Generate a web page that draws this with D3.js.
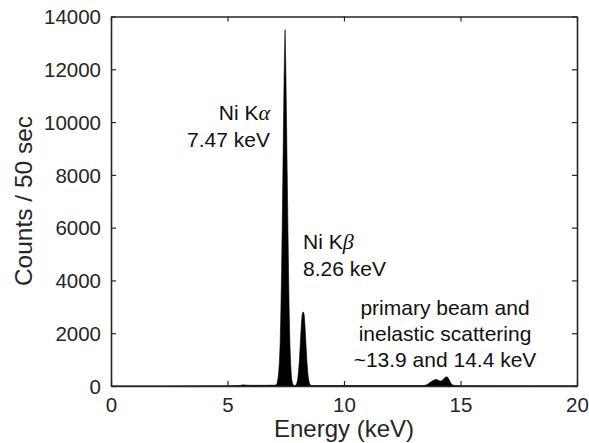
<!DOCTYPE html>
<html><head><meta charset="utf-8">
<script src="https://cdn.jsdelivr.net/npm/d3@7"></script>
<style>
html,body{margin:0;padding:0;background:#fff;}
svg{display:block;font-family:"Liberation Sans",Arial,Helvetica,sans-serif;}
</style></head>
<body>
<svg id="chart" width="589" height="443"></svg>
<script>
// Spectrum (energy in keV, counts per 50 s)
const energy = [0, 2, 5.0, 5.5, 5.6, 5.67, 5.75, 5.85, 6.0, 6.5, 7.0, 7.08,
  7.11, 7.14, 7.17, 7.20, 7.23, 7.26, 7.29, 7.32, 7.35, 7.38, 7.41, 7.44, 7.47,
  7.50, 7.53, 7.56, 7.59, 7.62, 7.65, 7.68, 7.71, 7.74, 7.77, 7.80, 7.83, 7.88,
  7.93, 7.96, 7.99, 8.02, 8.05, 8.08, 8.11, 8.14, 8.17, 8.20, 8.23, 8.26,
  8.29, 8.32, 8.35, 8.38, 8.41, 8.44, 8.47, 8.50, 8.53, 8.56, 8.62, 9.0, 10.0,
  10.4, 11.0, 12.0, 13.0, 13.4, 13.5, 13.6, 13.7, 13.8, 13.9, 13.97, 14.05, 14.12,
  14.17, 14.25, 14.32, 14.4, 14.45, 14.5, 14.56, 14.62, 14.7, 14.8, 15.0, 16.0,
  18.0, 20.0];
const counts = [0, 0, 5, 15, 30, 45, 35, 30, 25, 25, 30, 40,
  60, 140, 300, 560, 950, 1600, 2800, 4300, 6200, 8300, 10400, 12300, 13500,
  12200, 10300, 8200, 6200, 4300, 2700, 1550, 850, 400, 170, 70, 30, 15,
  30, 70, 150, 310, 560, 910, 1360, 1870, 2350, 2680, 2790, 2800,
  2700, 2360, 1880, 1380, 920, 560, 310, 160, 75, 30, 15, 15, 15,
  20, 15, 15, 15, 20, 30, 70, 140, 200, 240, 250, 220, 185,
  190, 240, 310, 350, 330, 260, 150, 60, 30, 15, 10, 8,
  5, 5];

const xTicks = [0, 5, 10, 15, 20];
const yTicks = [0, 2000, 4000, 6000, 8000, 10000, 12000, 14000];
const xLabel = "Energy (keV)";
const yLabel = "Counts / 50 sec";

const svg = d3.select("#chart");
const L = 111, R = 577, T = 16.5, B = 386;
const ink = "#262626";
const x = d3.scaleLinear().domain([0, 20]).range([L, R]);
const y = d3.scaleLinear().domain([0, 14000]).range([B, T]);

const pts = energy.map((e, i) => [e, counts[i]]);
const area = d3.area().x(d => x(d[0])).y0(y(0)).y1(d => y(d[1]));
svg.append("path").datum(pts).attr("d", area).attr("fill", "#000")
  .attr("stroke", "#000").attr("stroke-width", 0.6);

// axes (inward ticks, mirrored box)
const fs = 20.5;
const ax = svg.append("g").attr("transform", `translate(0,${B})`)
  .call(d3.axisBottom(x).tickValues(xTicks).tickSizeInner(-5).tickSizeOuter(0).tickPadding(16));
const axT = svg.append("g").attr("transform", `translate(0,${T})`)
  .call(d3.axisTop(x).tickValues(xTicks).tickSizeInner(-5).tickSizeOuter(0).tickFormat(""));
const ay = svg.append("g").attr("transform", `translate(${L},0)`)
  .call(d3.axisLeft(y).tickValues(yTicks).tickSizeInner(-5).tickSizeOuter(0).tickPadding(16).tickFormat(d3.format("d")));
const ayR = svg.append("g").attr("transform", `translate(${R},0)`)
  .call(d3.axisRight(y).tickValues(yTicks).tickSizeInner(-5).tickSizeOuter(0).tickFormat(""));
[ax, axT, ay, ayR].forEach(g => {
  g.selectAll("path").attr("stroke", ink).attr("stroke-width", 1.6);
  g.selectAll("line").attr("stroke", ink).attr("stroke-width", 1.2);
  g.selectAll("text").attr("fill", ink).attr("font-size", fs)
    .attr("font-family", '"Liberation Sans",Arial,sans-serif');
});
ax.selectAll("text").attr("dy", "0.71em").attr("y", 11);
ay.selectAll("text").attr("x", -10).attr("dy", "0.35em");

// axis labels
svg.append("text").attr("x", 344).attr("y", 437).attr("text-anchor", "middle")
  .attr("font-size", 24).attr("fill", ink).text(xLabel);
svg.append("text").attr("transform", `translate(32,201) rotate(-90)`)
  .attr("text-anchor", "middle").attr("font-size", 24.5).attr("fill", ink).text(yLabel);

// annotations
const afs = 21;
function greekLine(xp, yp, anchor, pre, greek) {
  const t = svg.append("text").attr("x", xp).attr("y", yp).attr("text-anchor", anchor)
    .attr("font-size", afs).attr("fill", "#111");
  t.append("tspan").text(pre);
  t.append("tspan").attr("font-family", '"Liberation Serif","DejaVu Serif",serif')
    .attr("font-style", "italic").attr("font-size", afs + 1).text(greek);
}
greekLine(270, 120, "end", "Ni K", "α");
svg.append("text").attr("x", 270).attr("y", 146.5).attr("text-anchor", "end")
  .attr("font-size", afs).attr("fill", "#111").text("7.47 keV");
greekLine(303, 249, "start", "Ni K", "β");
svg.append("text").attr("x", 303).attr("y", 276).attr("text-anchor", "start")
  .attr("font-size", afs).attr("fill", "#111").text("8.26 keV");
const lines = ["primary beam and", "inelastic scattering", "~13.9 and 14.4 keV"];
lines.forEach((s, i) => {
  svg.append("text").attr("x", 445).attr("y", 314.5 + i * 26.3).attr("text-anchor", "middle")
    .attr("font-size", afs).attr("fill", "#111").text(s);
});
</script>
</body></html>
